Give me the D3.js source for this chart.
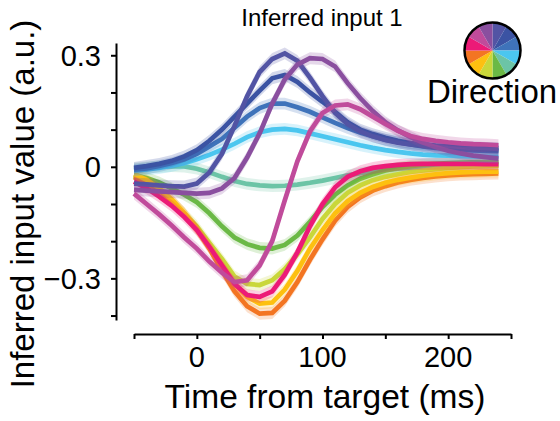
<!DOCTYPE html>
<html>
<head>
<meta charset="utf-8">
<script src="https://cdn.jsdelivr.net/npm/d3@7"></script>
<style>
	body { margin: 0; background: #fff; }
	svg text { font-family: "Liberation Sans", Arial, sans-serif; fill: #000; }
</style>
</head>
<body>
<svg id="chart" width="560" height="421"></svg>
<script>
// time axis of every series (ms from target)
var times = [-50,-40,-30,-20,-10,0,10,20,30,40,50,60,70,80,90,100,110,120,130,140,150,160,170,180,190,200,210,220,230,240];

// one inferred input trace per reach direction (a.u.)
var indigo  = [-0.045,-0.047,-0.05,-0.052,-0.053,-0.045,-0.015,0.035,0.11,0.19,0.255,0.29,0.305,0.285,0.24,0.19,0.145,0.115,0.095,0.082,0.072,0.065,0.06,0.056,0.053,0.05,0.048,0.047,0.046,0.045];
var darkBlue = [-0.003,0.002,0.008,0.016,0.028,0.045,0.07,0.1,0.135,0.17,0.205,0.238,0.247,0.228,0.2,0.175,0.148,0.12,0.1,0.088,0.078,0.07,0.064,0.06,0.057,0.055,0.053,0.052,0.051,0.05];
var blue    = [-0.008,-0.004,0.002,0.01,0.02,0.035,0.055,0.075,0.105,0.135,0.158,0.17,0.17,0.16,0.148,0.133,0.118,0.104,0.092,0.082,0.073,0.066,0.06,0.055,0.051,0.048,0.046,0.044,0.043,0.042];
var cyan    = [-0.01,-0.007,-0.003,0.003,0.01,0.02,0.032,0.046,0.062,0.08,0.093,0.1,0.102,0.098,0.09,0.082,0.074,0.066,0.058,0.051,0.045,0.04,0.036,0.033,0.031,0.03,0.029,0.028,0.027,0.027];
var teal    = [-0.005,-0.002,0,0.002,0.001,-0.005,-0.015,-0.027,-0.038,-0.046,-0.05,-0.052,-0.051,-0.048,-0.043,-0.037,-0.03,-0.023,-0.017,-0.012,-0.008,-0.005,-0.002,0,0.002,0.003,0.004,0.005,0.005,0.005];
var green   = [-0.022,-0.03,-0.042,-0.058,-0.075,-0.095,-0.125,-0.16,-0.19,-0.208,-0.218,-0.22,-0.21,-0.185,-0.148,-0.108,-0.075,-0.05,-0.032,-0.02,-0.01,-0.003,0.002,0.006,0.008,0.01,0.011,0.012,0.013,0.013];
var yellowGreen = [-0.025,-0.045,-0.068,-0.095,-0.125,-0.16,-0.205,-0.248,-0.295,-0.315,-0.318,-0.305,-0.275,-0.235,-0.19,-0.14,-0.1,-0.07,-0.05,-0.036,-0.027,-0.02,-0.014,-0.01,-0.006,-0.003,-0.001,0.001,0.002,0.003];
var yellow  = [-0.02,-0.035,-0.058,-0.088,-0.125,-0.168,-0.215,-0.265,-0.315,-0.35,-0.368,-0.365,-0.33,-0.28,-0.22,-0.17,-0.125,-0.092,-0.07,-0.054,-0.043,-0.035,-0.029,-0.024,-0.02,-0.017,-0.015,-0.014,-0.013,-0.013];
var orange  = [-0.028,-0.042,-0.063,-0.09,-0.125,-0.168,-0.22,-0.28,-0.335,-0.375,-0.395,-0.393,-0.36,-0.31,-0.25,-0.195,-0.145,-0.108,-0.082,-0.064,-0.052,-0.042,-0.035,-0.03,-0.026,-0.023,-0.021,-0.02,-0.019,-0.018];
var pink    = [-0.04,-0.058,-0.08,-0.105,-0.135,-0.17,-0.215,-0.265,-0.315,-0.345,-0.35,-0.335,-0.29,-0.23,-0.16,-0.1,-0.055,-0.027,-0.012,-0.003,0.002,0.005,0.007,0.008,0.008,0.008,0.008,0.008,0.007,0.007];
var magenta = [-0.072,-0.1,-0.128,-0.158,-0.19,-0.22,-0.255,-0.285,-0.31,-0.305,-0.265,-0.2,-0.09,0.015,0.095,0.145,0.165,0.168,0.155,0.135,0.115,0.097,0.083,0.075,0.07,0.066,0.063,0.061,0.06,0.058];
var purple  = [-0.062,-0.064,-0.066,-0.068,-0.07,-0.072,-0.07,-0.058,-0.03,0.025,0.09,0.17,0.235,0.275,0.292,0.29,0.27,0.225,0.185,0.15,0.12,0.098,0.08,0.065,0.053,0.043,0.036,0.03,0.026,0.022];
var semWidth = 0.016; // half width of the shaded error band

// wheel order, clockwise from 12 o'clock
var wheelColors = ["#5254a4","#3b53a3","#3f73ba","#4bc6ef","#6cc4a6","#6bb946","#c9d73a","#fdc010","#f37522","#ec1a77","#c04b9b","#8a4f9f"];

// drawing order of the traces (later ones on top)
var traces = [
	{values: teal, color: wheelColors[4]},
	{values: green, color: wheelColors[5]},
	{values: yellowGreen, color: wheelColors[6]},
	{values: orange, color: wheelColors[8]},
	{values: yellow, color: wheelColors[7]},
	{values: pink, color: wheelColors[9]},
	{values: cyan, color: wheelColors[3]},
	{values: blue, color: wheelColors[2]},
	{values: darkBlue, color: wheelColors[1]},
	{values: indigo, color: wheelColors[0]},
	{values: purple, color: wheelColors[11]},
	{values: magenta, color: wheelColors[10]}
];

var xTicks = [-50,0,50,100,150,200,250];
var xLabels = [0,100,200];
var yTicks = [-0.4,-0.3,-0.2,-0.1,0,0.1,0.2,0.3];
var yLabels = [-0.3,0,0.3];

var svg = d3.select("#chart");

var x = d3.scaleLinear().domain([-50, 250]).range([134, 511]);
var y = d3.scaleLinear().domain([-0.412, 0.333]).range([320, 43]);

// traces with their bands
var band = d3.area()
	.x(function (d) { return x(d.t); })
	.y0(function (d) { return y(d.v - semWidth); })
	.y1(function (d) { return y(d.v + semWidth); });
var line = d3.line()
	.x(function (d) { return x(d.t); })
	.y(function (d) { return y(d.v); });

var plot = svg.append("g");
traces.forEach(function (s) {
	var pts = times.map(function (t, i) { return {t: t, v: s.values[i]}; });
	plot.append("path")
		.attr("d", band(pts))
		.attr("fill", s.color)
		.attr("fill-opacity", 0.22);
	plot.append("path")
		.attr("d", line(pts))
		.attr("fill", "none")
		.attr("stroke", s.color)
		.attr("stroke-width", 4.7);
});

// y axis
var yAxis = svg.append("g")
	.attr("transform", "translate(116,0)")
	.call(d3.axisLeft(y).tickValues(yTicks).tickSize(5).tickSizeOuter(0).tickFormat(""));
yAxis.selectAll("path, line").attr("stroke", "#000").attr("stroke-width", 2);
svg.append("g").selectAll("text")
	.data(yLabels)
	.enter().append("text")
	.attr("x", 101)
	.attr("y", function (d) { return y(d); })
	.attr("dy", "0.36em")
	.attr("text-anchor", "end")
	.attr("font-size", 29)
	.text(function (d) { return d === 0 ? "0" : d3.format(".1f")(d).replace("-", "\u2212"); });

// x axis
var xAxis = svg.append("g")
	.attr("transform", "translate(0,334)")
	.call(d3.axisBottom(x).tickValues(xTicks).tickSize(5).tickSizeOuter(0).tickFormat(""));
xAxis.selectAll("path, line").attr("stroke", "#000").attr("stroke-width", 2);
svg.append("g").selectAll("text")
	.data(xLabels)
	.enter().append("text")
	.attr("x", function (d) { return x(d); })
	.attr("y", 367)
	.attr("text-anchor", "middle")
	.attr("font-size", 29)
	.text(function (d) { return d; });

// titles
svg.append("text")
	.attr("x", 322).attr("y", 26)
	.attr("text-anchor", "middle")
	.attr("font-size", 24)
	.text("Inferred input 1");
svg.append("text")
	.attr("x", 325).attr("y", 408)
	.attr("text-anchor", "middle")
	.attr("font-size", 33.5)
	.text("Time from target (ms)");
svg.append("text")
	.attr("transform", "translate(34,204) rotate(-90)")
	.attr("text-anchor", "middle")
	.attr("font-size", 33)
	.text("Inferred input value (a.u.)");

// direction colour wheel
var wheel = svg.append("g").attr("transform", "translate(492.5,50.5)");
var pie = d3.pie().sort(null).value(1);
var arc = d3.arc().innerRadius(0).outerRadius(28);
wheel.selectAll("path")
	.data(pie(wheelColors))
	.enter().append("path")
	.attr("d", arc)
	.attr("fill", function (d) { return d.data; });
wheel.append("circle")
	.attr("r", 28)
	.attr("fill", "none")
	.attr("stroke", "#000")
	.attr("stroke-width", 2.5);
svg.append("text")
	.attr("x", 492).attr("y", 103)
	.attr("text-anchor", "middle")
	.attr("font-size", 33)
	.text("Direction");
</script>
</body>
</html>
